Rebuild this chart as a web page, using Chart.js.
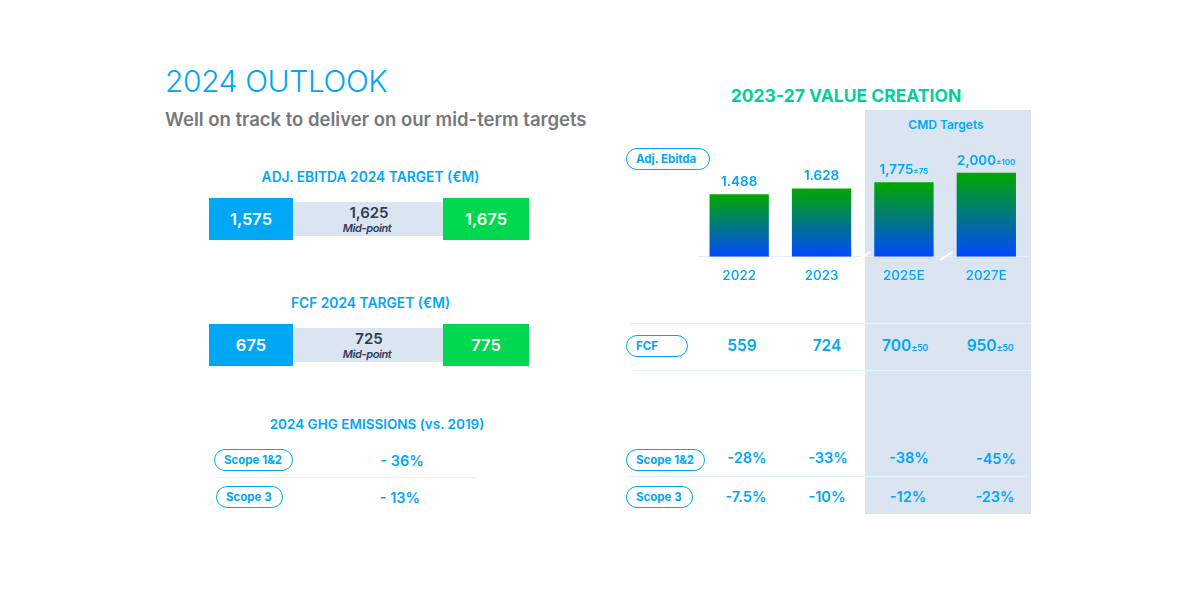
<!DOCTYPE html>
<html>
<head>
<meta charset="utf-8">
<title>2024 Outlook</title>
<script src="https://cdn.jsdelivr.net/npm/chart.js@4"></script>
<style>
  html, body { margin: 0; padding: 0; background: #fff; }
  #page { position: relative; width: 1200px; height: 600px; overflow: hidden; font-family: Inter, "Noto Sans", sans-serif; color: #00a7f5; }
  .abs { position: absolute; white-space: nowrap; }
  .t { transform: translate(-50%, -50%); font-weight: 600; }
  .t small { font-size: 9px; font-weight: 600; letter-spacing: -0.3px; }
  .box { display: flex; align-items: center; justify-content: center; color: #fff; font-weight: 600; font-size: 16.5px; }
  .pill { transform: translateY(-50%); box-sizing: border-box; height: 22px; line-height: 20px; border: 1.3px solid #00a7f5; border-radius: 11px; font-size: 11.5px; font-weight: 700; padding-left: 9px; background: #fff; }
  .rule { height: 1px; background: #e2f4fc; }
  #chartWrap { position: absolute; left: 698px; top: 130px; width: 333px; height: 157px; }
</style>
</head>
<body>
<div id="page">
  <div class="abs" style="left:864.5px;top:110px;width:166.5px;height:404px;background:#dbe5f2"></div>
  <div class="abs" style="left:165px;top:62px;font-size:30px;font-weight:300;line-height:38px;letter-spacing:-0.4px">2024 OUTLOOK</div>
  <div class="abs" style="left:165px;top:107px;font-size:18.5px;font-weight:600;line-height:24px;color:#77787b">Well on track to deliver on our mid-term targets</div>
  <div class="abs t" style="left:846px;top:95px;font-size:17.5px;color:#00d19b;font-weight:700">2023-27 VALUE CREATION</div>
  <div class="abs t" style="left:946px;top:124px;font-size:12px">CMD Targets</div>
  <div id="chartWrap"><canvas id="chartEbitda"></canvas></div>
</div>
<script>
// data
const years = ['2022', '2023', '2025E', '2027E'];
const ebitda = [1488, 1628, 1775, 2000];
const ebitdaLabels = ['1.488', '1.628', '1,775', '2,000'];
const ebitdaRange = ['', '', '±75', '±100'];
const fcf = ['559', '724', '700', '950'];
const fcfRange = ['', '', '±50', '±50'];
const scope12 = ['-28%', '-33%', '-38%', '-45%'];
const scope3 = ['-7.5%', '-10%', '-12%', '-23%'];
const ebitdaTarget = ['1,575', '1,625', '1,675'];
const fcfTarget = ['675', '725', '775'];
const ghg2024 = ['- 36%', '- 13%'];

const page = document.getElementById('page');

function add(cls, style, html) {
    const el = document.createElement('div');
    el.className = 'abs ' + cls;
    el.style.cssText = style;
    el.innerHTML = html;
    page.appendChild(el);
    return el;
}

function text(x, y, size, html, color) {
    add('t', 'left:' + x + 'px;top:' + y + 'px;font-size:' + size + 'px;' + (color ? 'color:' + color : ''), html);
}

function pill(x, y, w, label) {
    add('pill', 'left:' + x + 'px;top:' + y + 'px;width:' + w + 'px', label);
}

function rule(x, y, w) {
    add('rule', 'left:' + x + 'px;top:' + y + 'px;width:' + w + 'px', '');
}

// target strip: low / mid-point / high
function targetStrip(y, values) {
    add('box', 'left:209px;top:' + y + 'px;width:84px;height:42px;background:#00a7f5', values[0]);
    add('', 'left:293px;top:' + (y + 4) + 'px;width:150px;height:34px;background:#dbe5f2', '');
    add('box', 'left:443px;top:' + y + 'px;width:86px;height:42px;background:#00d84f', values[2]);
    text(369, y + 14, 15, values[1], '#2b3a55');
    add('t', 'left:367px;top:' + (y + 29.5) + 'px;font-size:11px;font-style:italic;color:#2b3a55;letter-spacing:-0.4px', 'Mid-point');
}

// left column
text(370.5, 177, 13.8, 'ADJ. EBITDA 2024 TARGET (€M)');
targetStrip(198, ebitdaTarget);
text(370.5, 303, 13.8, 'FCF 2024 TARGET (€M)');
targetStrip(324, fcfTarget);
text(377, 424, 13.5, '2024 GHG EMISSIONS (vs. 2019)');
pill(214, 460, 79, 'Scope 1&2');
pill(216, 497, 67, 'Scope 3');
rule(217, 477, 258);
text(402, 460, 14.5, ghg2024[0]);
text(400, 497, 14.5, ghg2024[1]);

// right column table rows
pill(626, 158.5, 84, 'Adj. Ebitda');
pill(626, 345.5, 62, 'FCF');
pill(626, 459.5, 79, 'Scope 1&2');
pill(626, 497, 67, 'Scope 3');
rule(630, 323, 401);
rule(631, 370, 400);
rule(627, 476, 400);

const fcfX = [742, 827, 905, 990];
fcf.forEach(function(v, i) {
    text(fcfX[i], 345, 15.5, v + (fcfRange[i] ? '<small>' + fcfRange[i] + '</small>' : ''));
});
const scope12X = [747, 828, 909, 996];
const scope12Y = [457, 457, 457, 458];
scope12.forEach(function(v, i) { text(scope12X[i], scope12Y[i], 14.5, v); });
const scope3X = [746, 827, 908, 995];
scope3.forEach(function(v, i) { text(scope3X[i], 496, 14.5, v); });

// value labels over the bars, range in small type behind the number
const barLabels = {
    id: 'barLabels',
    afterDatasetsDraw: function(chart) {
        const c = chart.ctx;
        const bars = chart.getDatasetMeta(0).data;
        c.save();
        c.fillStyle = '#00a7f5';
        c.textBaseline = 'alphabetic';
        bars.forEach(function(bar, i) {
            c.font = '600 13.5px Inter';
            const main = ebitdaLabels[i];
            const w1 = c.measureText(main).width;
            c.font = '600 8px Inter';
            const w2 = c.measureText(ebitdaRange[i]).width;
            const x = bar.x - (w1 + w2) / 2;
            c.font = '600 13.5px Inter';
            c.fillText(main, x, bar.y - 8);
            c.font = '600 8px Inter';
            c.fillText(ebitdaRange[i], x + w1, bar.y - 8);
        });
        // axis break marks
        const base = chart.scales.y.getPixelForValue(0);
        c.strokeStyle = '#fff';
        c.lineWidth = 2;
        [166.5, 248.5].forEach(function(x) {
            c.beginPath();
            c.moveTo(x - 6, base + 3);
            c.lineTo(x + 6, base - 5);
            c.stroke();
        });
        c.restore();
    }
};

new Chart(document.getElementById('chartEbitda').getContext('2d'), {
    type: 'bar',
    data: {
        labels: years,
        datasets: [{
            data: ebitda,
            barPercentage: 1,
            categoryPercentage: 0.72,
            backgroundColor: function(context) {
                const chart = context.chart;
                if (!chart.chartArea) return '#00a800';
                const y = chart.scales.y;
                const g = chart.ctx.createLinearGradient(0, y.getPixelForValue(context.raw), 0, y.getPixelForValue(0));
                g.addColorStop(0, '#00a800');
                g.addColorStop(1, '#0048ff');
                return g;
            }
        }]
    },
    options: {
        responsive: true,
        maintainAspectRatio: false,
        animation: false,
        layout: { padding: { left: 0, right: 3.5, top: 26, bottom: 0 } },
        plugins: { legend: { display: false }, tooltip: { enabled: false } },
        scales: {
            x: {
                grid: { display: false },
                border: { display: true, color: '#e8eef7', width: 1 },
                ticks: { color: '#00a7f5', padding: 3, maxRotation: 0, font: { family: 'Inter', size: 13.5, weight: '500' } }
            },
            y: { display: false, min: 0, max: 2400 }
        }
    },
    plugins: [barLabels]
});
</script>
</body>
</html>
